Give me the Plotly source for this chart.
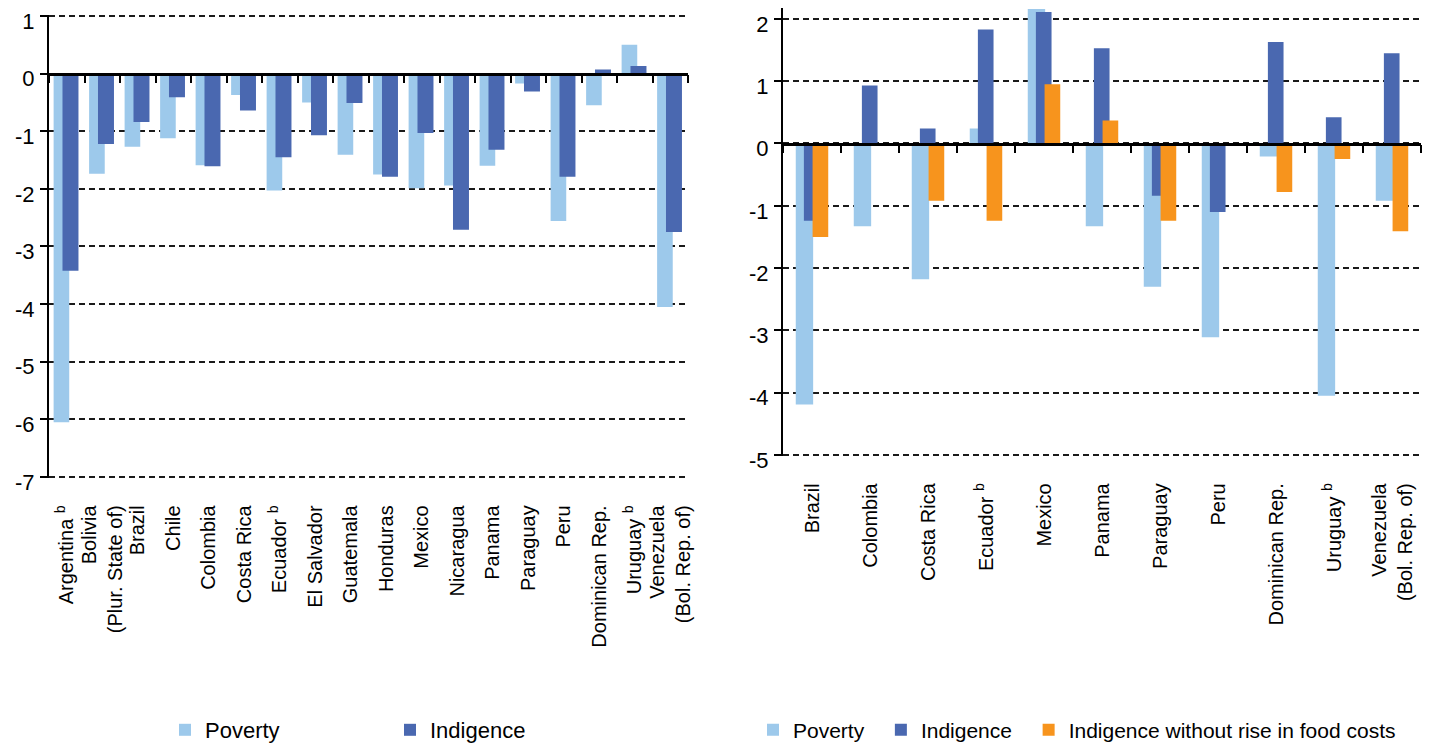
import plotly.graph_objects as go

# ---------------- data ----------------
left_countries = ["Argentina <sup>b</sup>", "Bolivia<br>(Plur. State of)", "Brazil", "Chile",
                  "Colombia", "Costa Rica", "Ecuador <sup>b</sup>", "El Salvador", "Guatemala",
                  "Honduras", "Mexico", "Nicaragua", "Panama", "Paraguay", "Peru",
                  "Dominican Rep.", "Uruguay <sup>b</sup>", "Venezuela<br>(Bol. Rep. of)"]
left_poverty = [-6.05, -1.74, -1.27, -1.12, -1.59, -0.37, -2.03, -0.50, -1.41,
                -1.75, -1.99, -1.94, -1.60, -0.17, -2.56, -0.55, 0.50, -4.05]
left_indigence = [-3.42, -1.22, -0.84, -0.41, -1.61, -0.64, -1.45, -1.07, -0.51,
                  -1.79, -1.03, -2.71, -1.32, -0.31, -1.79, 0.07, 0.13, -2.75]

right_countries = ["Brazil", "Colombia", "Costa Rica", "Ecuador <sup>b</sup>", "Mexico",
                   "Panama", "Paraguay", "Peru", "Dominican Rep.", "Uruguay <sup>b</sup>",
                   "Venezuela<br>(Bol. Rep. of)"]
right_poverty = [-4.19, -1.33, -2.18, 0.24, 2.16, -1.33, -2.30, -3.11, -0.21, -4.05, -0.92]
right_indigence = [-1.24, 0.93, 0.24, 1.83, 2.11, 1.53, -0.84, -1.10, 1.63, 0.42, 1.45]
right_indigence_nofood = [-1.50, None, -0.92, -1.24, 0.95, 0.37, -1.24, None, -0.78, -0.25, -1.41]

left_yticks = [1, 0, -1, -2, -3, -4, -5, -6, -7]
right_yticks = [2, 1, 0, -1, -2, -3, -4, -5]

# ---------------- styling ----------------
C_POV = "#9DC9EB"
C_IND = "#4A68B0"
C_ORG = "#F7941D"
OFF = 8                      # page body margin
W, H = 1433 - 2 * OFF, 752 - 2 * OFF
SANS = "Liberation Sans, Arial, sans-serif"
TICKLEN = 8
NBSP = "\u00a0"


def fx(px):
    return (px - OFF) / W


def fy(px):
    return min(1.0, max(0.0, 1 - (px - OFF) / H))


# value ranges (slightly padded so the end grid lines are drawn)
left_range = [-7.02, 1.02]
right_range = [-5.02, 2.17]
# target screen geometry of each panel
left_zero_px, left_unit_px = 73.6, 57.625
right_zero_px, right_unit_px = 143.5, 62.3

left_xdom = [fx(49), fx(688)]
left_ydom = [fy(left_zero_px - left_range[0] * left_unit_px),
             fy(left_zero_px - left_range[1] * left_unit_px)]
right_xdom = [fx(783), fx(1421)]
right_ydom = [fy(right_zero_px - right_range[0] * right_unit_px),
              fy(right_zero_px - right_range[1] * right_unit_px)]


def zero_pos(dom, rng):
    return dom[0] + (0 - rng[0]) / (rng[1] - rng[0]) * (dom[1] - dom[0])


def standoff(dom, rng, label_top_px):
    zero_px = (1 - zero_pos(dom, rng)) * H + OFF
    return int(round(label_top_px - zero_px - TICKLEN - 3))


fig = go.Figure()

# left chart
fig.add_trace(go.Bar(x=left_countries, y=left_poverty, name="Poverty", marker_color=C_POV,
                     marker_line_width=0, offset=-0.37, width=0.44,
                     xaxis="x", yaxis="y", legend="legend"))
fig.add_trace(go.Bar(x=left_countries, y=left_indigence, name="Indigence", marker_color=C_IND,
                     marker_line_width=0, offset=-0.12, width=0.45,
                     xaxis="x", yaxis="y", legend="legend"))

# right chart
fig.add_trace(go.Bar(x=right_countries, y=right_poverty, name="Poverty" + NBSP * 2,
                     marker_color=C_POV, marker_line_width=0, offset=-0.28, width=0.30,
                     xaxis="x2", yaxis="y2", legend="legend2"))
fig.add_trace(go.Bar(x=right_countries, y=right_indigence, name="Indigence" + NBSP * 2,
                     marker_color=C_IND, marker_line_width=0, offset=-0.14, width=0.27,
                     xaxis="x2", yaxis="y2", legend="legend2"))
fig.add_trace(go.Bar(x=right_countries, y=right_indigence_nofood,
                     name="Indigence without rise in food costs", marker_color=C_ORG,
                     marker_line_width=0, offset=0.01, width=0.27,
                     xaxis="x2", yaxis="y2", legend="legend2"))

grid = dict(showgrid=True, gridcolor="#1a1a1a", gridwidth=2, griddash="6px,4px")


def xaxis(dom, ydom, yrng, cats, label_top_px):
    return dict(domain=dom, anchor="free", position=zero_pos(ydom, yrng),
                type="category", categoryorder="array", categoryarray=cats,
                range=[-0.5, len(cats) - 0.5],
                showline=True, linecolor="black", linewidth=2.5,
                ticks="outside", ticklen=TICKLEN, tickwidth=2, tickcolor="black",
                tickson="boundaries", showgrid=False, zeroline=False,
                tickangle=-90, tickfont=dict(family=SANS, size=20, color="black"),
                ticklabelstandoff=standoff(ydom, yrng, label_top_px),
                automargin=False)


def yaxis(dom, rng, ticks, anchor):
    return dict(domain=dom, range=rng, anchor=anchor, tickmode="array", tickvals=ticks,
                ticktext=[str(t) for t in ticks], ticks="outside", ticklen=7, tickwidth=2,
                tickcolor="black", showline=True, linecolor="black", linewidth=2,
                zeroline=False, ticklabeloverflow="allow", ticklabelshift=5,
                tickfont=dict(family=SANS, size=22, color="black"), ticklabelstandoff=1,
                automargin=False, **grid)


fig.update_layout(
    width=W, height=H,
    margin=dict(l=0, r=0, t=0, b=0, autoexpand=False),
    paper_bgcolor="white", plot_bgcolor="white",
    barmode="overlay",
    xaxis=xaxis(left_xdom, left_ydom, left_range, left_countries, 507),
    yaxis=yaxis(left_ydom, left_range, left_yticks, "x"),
    xaxis2=xaxis(right_xdom, right_ydom, right_range, right_countries, 484),
    yaxis2=yaxis(right_ydom, right_range, right_yticks, "x2"),
    legend=dict(orientation="h", x=fx(165), y=fy(730), xanchor="left", yanchor="middle",
                font=dict(family=SANS, size=22, color="black"), entrywidth=180,
                entrywidthmode="pixels", bgcolor="rgba(0,0,0,0)"),
    legend2=dict(orientation="h", x=fx(753), y=fy(730), xanchor="left", yanchor="middle",
                 font=dict(family=SANS, size=21, color="black"),
                 bgcolor="rgba(0,0,0,0)"),
    showlegend=True,
)

fig.write_html("out.html")
